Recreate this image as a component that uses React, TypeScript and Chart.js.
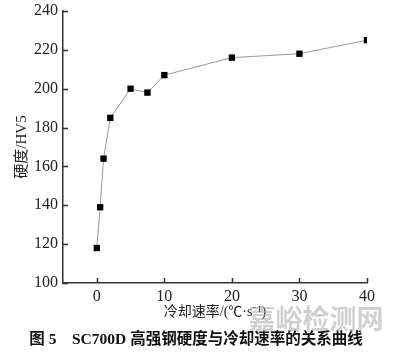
import React, { useEffect, useRef } from "react";
import { Chart, registerables } from "chart.js";
Chart.register(...registerables);

const coolingRates = [0, 0.5, 1, 2, 5, 7.5, 10, 20, 30, 40];
const hardness = [118, 139, 164, 185, 200, 198, 207, 216, 218, 225];
const xTicks = [0, 10, 20, 30, 40];
const yTicks = [100, 120, 140, 160, 180, 200, 220, 240];
const xTitle = "冷却速率/(℃·s⁻¹)";
const yTitle = "硬度/HV5";
const caption = "图 5　SC700D 高强钢硬度与冷却速率的关系曲线";
const watermark = "嘉峪检测网";

const FONT = "'Liberation Serif', 'Noto Sans CJK SC', serif";

const decorations = {
  id: "decorations",
  afterDraw(chart: any) {
    const ctx = chart.ctx;
    const xs = chart.scales.x;
    const ys = chart.scales.y;
    const area = chart.chartArea;
    ctx.save();
    ctx.strokeStyle = "#333";
    ctx.lineWidth = 1.5;
    ctx.beginPath();
    for (const t of ys.ticks) {
      const y = Math.round(ys.getPixelForValue(t.value)) + 0.5;
      ctx.moveTo(area.left, y);
      ctx.lineTo(area.left + 5, y);
    }
    for (const t of xs.ticks) {
      const x = Math.round(xs.getPixelForValue(t.value)) + 0.5;
      ctx.moveTo(x, area.bottom);
      ctx.lineTo(x, area.bottom - 5);
    }
    ctx.stroke();
    ctx.fillStyle = "#222";
    ctx.textAlign = "center";
    ctx.textBaseline = "middle";
    ctx.font = "14px " + FONT;
    ctx.fillText(xTitle, (area.left + area.right) / 2, area.bottom + 29);
    ctx.save();
    ctx.translate(22, (area.top + area.bottom) / 2);
    ctx.rotate(-Math.PI / 2);
    ctx.font = "15px " + FONT;
    ctx.fillText(yTitle, 0, 0);
    ctx.restore();
    ctx.fillStyle = "#111";
    ctx.font = "bold 15.5px " + FONT;
    ctx.fillText(caption, 196, 340);
    ctx.fillStyle = "rgba(170,170,170,0.55)";
    ctx.font = "bold 27px 'Noto Sans CJK SC', sans-serif";
    ctx.fillText(watermark, 316, 319);
    ctx.restore();
  },
};

export default function App() {
  const ref = useRef<HTMLCanvasElement>(null);
  useEffect(() => {
    if (!ref.current) return;
    const chart = new Chart(ref.current, {
      type: "line",
      data: {
        datasets: [
          {
            data: coolingRates.map((x, i) => ({ x, y: hardness[i] })),
            borderColor: "#999",
            borderWidth: 1,
            pointStyle: "rect",
            pointRadius: 4.5,
            pointBackgroundColor: "#000",
            pointBorderColor: "#000",
            pointBorderWidth: 0,
            tension: 0,
          },
        ],
      },
      options: {
        animation: false,
        responsive: true,
        maintainAspectRatio: false,
        layout: { padding: { top: 11, right: 29, left: 0, bottom: 0 } },
        plugins: { legend: { display: false }, tooltip: { enabled: false }, title: { display: false } },
        scales: {
          x: {
            type: "linear",
            min: -5,
            max: 40,
            afterBuildTicks: (s: any) => { s.ticks = xTicks.map((v) => ({ value: v })); },
            afterFit: (s: any) => { s.height = 76; s.paddingRight = 0; s.paddingLeft = 0; },
            grid: { display: false, drawTicks: false },
            border: { color: "#333", width: 1.5 },
            ticks: { color: "#222", font: { family: FONT, size: 16 }, padding: 4, maxRotation: 0 },
          },
          y: {
            type: "linear",
            min: 100,
            max: 240,
            afterBuildTicks: (s: any) => { s.ticks = yTicks.map((v) => ({ value: v })); },
            afterFit: (s: any) => { s.width = 63; s.paddingTop = 0; s.paddingBottom = 0; },
            grid: { display: false, drawTicks: false },
            border: { color: "#333", width: 1.5 },
            ticks: { color: "#222", font: { family: FONT, size: 16 }, padding: 5 },
          },
        },
      },
      plugins: [decorations],
    });
    return () => chart.destroy();
  }, []);
  return (
    <div style={{ position: "absolute", left: 0, top: 0, width: 396, height: 359, background: "#fff" }}>
      <canvas ref={ref} />
    </div>
  );
}
